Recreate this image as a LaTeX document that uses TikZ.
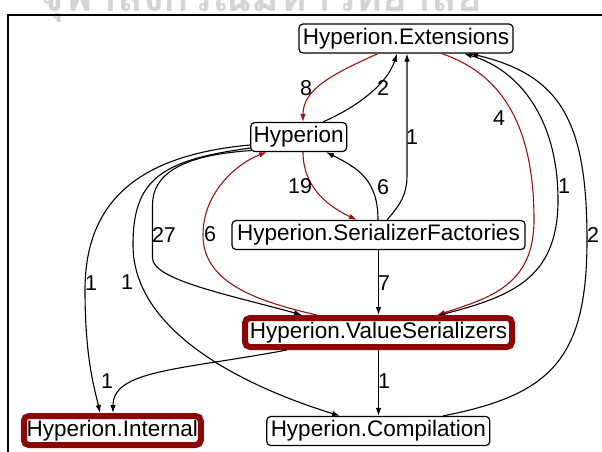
\documentclass[tikz,border=0pt]{standalone}
\usepackage{graphicx}
\usepackage{fontspec}
\setmainfont{Liberation Sans}
\newfontfamily\thaifont[Script=Thai]{Loma}
\usetikzlibrary{arrows.meta,calc}
\definecolor{depred}{RGB}{140,8,8}
\definecolor{edgered}{RGB}{158,18,18}
\definecolor{wmgray}{RGB}{212,212,212}

\begin{document}
\begin{tikzpicture}[x=1pt,y=-1pt,
  pkg/.style={draw=black, line width=1.2pt, rounded corners=4pt, fill=white,
    minimum height=29pt, inner sep=0pt, font=\fontsize{22.5}{27}\selectfont,
    text height=16.3pt, text depth=4.7pt},
  hot/.style={pkg, draw=depred, line width=6pt, rounded corners=5pt},
  dep/.style={line width=1.1pt, -{Latex[length=8pt,width=5.5pt]}},
  hotdep/.style={dep, draw=edgered, -{Latex[length=8pt,width=5.5pt,fill=edgered]}},
  cnt/.style={font=\fontsize{21.5}{26}\selectfont, inner sep=0pt},
  wmark/.style={text=wmgray, inner sep=0pt, anchor=base},
]
\useasboundingbox (0,0) rectangle (602,452);

% university crest text, cut by the page top
\node[wmark] (crest) at (261,11.5)
  {\resizebox{442pt}{!}{\thaifont\bfseries จุฬาลงกรณ์มหาวิทยาลัย}};

% frame
\draw[line width=2pt] (8,470) -- (8,15) -- (620,15);

% packages
\node[pkg, minimum width=214pt] (ext)  at (406,38.5)  {Hyperion.Extensions};
\node[pkg, minimum width=96pt]  (hyp)  at (298.7,137) {Hyperion};
\node[pkg, minimum width=293pt] (sf)   at (378.5,235) {Hyperion.SerializerFactories};
\node[hot, minimum width=267pt] (vs)   at (378.5,332.5) {Hyperion.ValueSerializers};
\node[hot, minimum width=177pt] (int)  at (112.3,430.5) {Hyperion.Internal};
\node[pkg, minimum width=223pt] (comp) at (378.3,431) {Hyperion.Compilation};

% dependencies
\draw[hotdep] ([xshift=-28pt]ext.south) .. controls (330,75) and (303,90) .. ([xshift=4.3pt]hyp.north);
\draw[dep] ([xshift=24.3pt]hyp.north) .. controls (355,108) and (387,85) .. ([xshift=-9pt]ext.south);
\draw[dep] ([xshift=8.5pt]sf.north) .. controls (400,205) and (407,195) .. (407,175) -- ([xshift=1pt]ext.south);
\draw[dep] ([xshift=-0.5pt]sf.north) .. controls (378,180) and (358,168) .. ([xshift=27.3pt]hyp.south);
\draw[hotdep] ([xshift=4.3pt]hyp.south) .. controls (303,185) and (325,205) .. ([xshift=-21.5pt]sf.north);
\draw[hotdep] ([xshift=-61.5pt]vs.north) .. controls (250,300) and (203,280) .. (203,235)
  .. controls (203,190) and (240,162) .. ([xshift=-31.7pt]hyp.south);
\draw[dep] ([xshift=2pt,yshift=-13.5pt]hyp.west) .. controls (180,155) and (152.5,175) .. (152.5,205)
  -- (152.5,258) .. controls (152.5,280) and (230,295) .. ([xshift=-76.5pt]vs.north);
\draw[dep] ([xshift=0.8pt,yshift=-11pt]hyp.west) .. controls (160,160) and (133,180) .. (133,245)
  .. controls (133,330) and (240,385) .. ([xshift=-38.3pt]comp.north);
\draw[dep] ([yshift=-8pt]hyp.west) .. controls (140,155) and (85,200) .. (85,290)
  .. controls (85,360) and (95,390) .. ([xshift=-12.3pt]int.north);
\draw[dep] ([xshift=-91.5pt]vs.south) .. controls (180,370) and (113,370) .. ([xshift=0.7pt]int.north);
\draw[dep] (vs.south) -- (vs.south |- comp.north);
\draw[dep] (sf.south) -- (sf.south |- vs.north);
\draw[hotdep] ([xshift=35.7pt]ext.south) .. controls (505,75) and (534,130) .. (534,220)
  .. controls (534,285) and (490,298) .. ([xshift=58.5pt]vs.north);
\draw[dep] ([xshift=61.5pt]vs.north) .. controls (510,297) and (558,280) .. (558,200)
  .. controls (558,120) and (520,70) .. ([xshift=58pt]ext.south);
\draw[dep] ([xshift=64.7pt]comp.north) .. controls (550,395) and (587,360) .. (587,240)
  .. controls (587,120) and (560,75) .. ([xshift=64pt]ext.south);

% dependency counts
\node[cnt] (l8)  at (306,88)  {8};
\node[cnt] (l2)  at (383,88)  {2};
\node[cnt] (l1a) at (412,137) {1};
\node[cnt] (l6a) at (383,187) {6};
\node[cnt] (l19) at (300,186) {19};
\node[cnt] (l6b) at (210,234) {6};
\node[cnt] (l27) at (164,235) {27};
\node[cnt] (l1b) at (127,282) {1};
\node[cnt] (l1c) at (91,283)  {1};
\node[cnt] (l1d) at (107,381) {1};
\node[cnt] (l1e) at (384,381) {1};
\node[cnt] (l7)  at (384,283) {7};
\node[cnt] (l4)  at (499,118) {4};
\node[cnt] (l1f) at (564,186) {1};
\node[cnt] (l2b) at (593,235) {2};
\end{tikzpicture}
\end{document}
